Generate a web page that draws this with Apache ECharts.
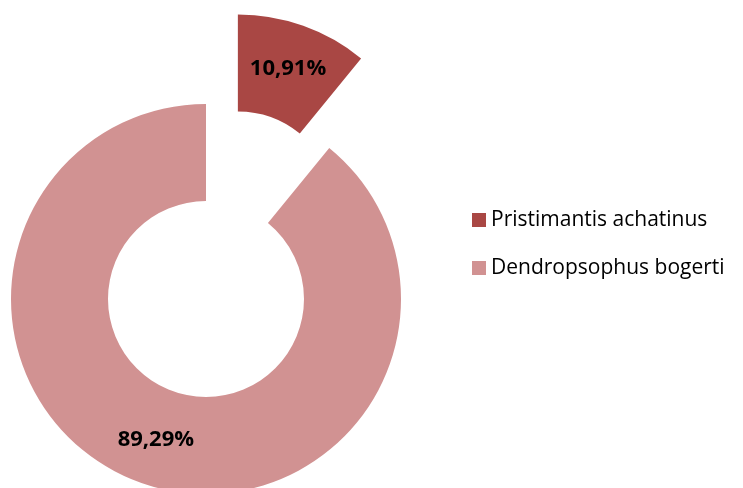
<!DOCTYPE html>
<html>
<head>
<meta charset="utf-8">
<script src="https://cdn.jsdelivr.net/npm/echarts@6/dist/echarts.min.js"></script>
<style>
  html, body { margin: 0; padding: 0; background: #fff; }
  #chart { width: 743px; height: 488px; }
</style>
</head>
<body>
<div id="chart"></div>
<script>
// Species share of recorded individuals
const species = ['Pristimantis achatinus', 'Dendropsophus bogerti'];
const shares = [10.91, 89.29];
const sliceColors = ['#A94744', '#D19292'];

const chart = echarts.init(document.getElementById('chart'), null, { renderer: 'canvas' });

const pieData = species.map((name, i) => ({
  name: name,
  value: shares[i],
  selected: i === 0,
  itemStyle: { color: sliceColors[i] },
  select: { itemStyle: { color: sliceColors[i] } }
}));

chart.setOption({
  animation: false,
  backgroundColor: '#ffffff',
  legend: {
    orient: 'vertical',
    left: 467,
    top: 203,
    icon: 'rect',
    itemWidth: 14,
    itemHeight: 14,
    itemGap: 24,
    selectedMode: false,
    data: species,
    textStyle: {
      fontFamily: 'Open Sans',
      fontSize: 21,
      color: '#000',
      lineHeight: 24
    }
  },
  series: [{
    type: 'pie',
    center: [206, 299],
    radius: [98, 195],
    startAngle: 90,
    clockwise: true,
    selectedMode: 'single',
    selectedOffset: 95,
    avoidLabelOverlap: false,
    emphasis: { disabled: true },
    label: {
      show: true,
      position: 'inside',
      fontFamily: 'Open Sans',
      fontWeight: 'bold',
      fontSize: 22,
      color: '#000',
      formatter: p => p.value.toFixed(2).replace('.', ',') + '%'
    },
    labelLine: { show: false },
    data: pieData
  }]
});
</script>
</body>
</html>
